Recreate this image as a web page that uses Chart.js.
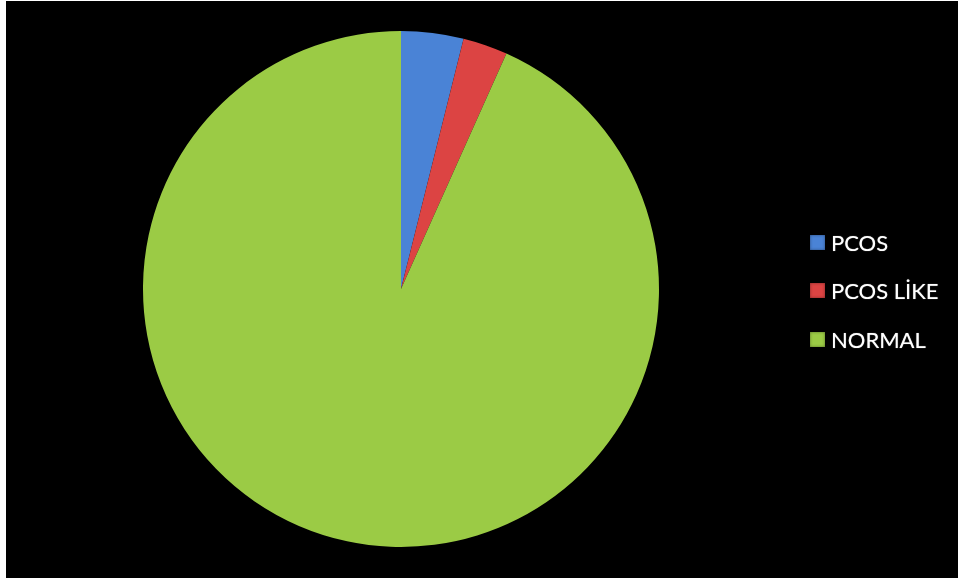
<!DOCTYPE html>
<html>
<head>
<meta charset="utf-8">
<script src="https://cdn.jsdelivr.net/npm/chart.js@4/dist/chart.umd.min.js"></script>
<style>
  html, body { margin: 0; padding: 0; background: #fff; }
  #wrap { position: absolute; left: 6px; top: 1px; width: 952px; height: 577px; background: #000; }
  #pie { position: absolute; left: 0; top: 0; }
  #legend { position: absolute; left: 804px; top: 222px; margin: 0; padding: 0; list-style: none;
            font-family: Lato, "Noto Sans", sans-serif; font-size: 22px; color: #fff;
            text-shadow: 0 0 1px rgba(255,255,255,0.6); }
  #legend li { display: flex; align-items: center; height: 38px; margin-bottom: 10.5px; }
  #legend .box { width: 15px; height: 15px; margin-right: 6px; box-shadow: inset 0 0 3px rgba(0,0,0,0.45); }
</style>
</head>
<body>
<div id="wrap">
  <canvas id="pie" width="952" height="577"></canvas>
  <ul id="legend"></ul>
</div>
<script>
// share of each group (%)
const groups = ['PCOS', 'PCOS LİKE', 'NORMAL'];
const shares = [3.9, 2.8, 93.3];
const colors = ['#4A83D6', '#DC4443', '#9BCB45'];
const rimColors = ['#2F5FA8', '#A82E2D', '#6E9830'];

// darker rim near the edge of every slice
function sliceFill(ctx) {
    const arc = ctx.element;
    const chart = ctx.chart;
    if (!arc || !arc.outerRadius) return colors[ctx.dataIndex];
    const { x, y } = arc.getProps(['x', 'y'], true);
    const r = arc.outerRadius;
    const g = chart.ctx.createRadialGradient(x, y, 0, x, y, r);
    g.addColorStop(0, colors[ctx.dataIndex]);
    g.addColorStop(0.93, colors[ctx.dataIndex]);
    g.addColorStop(1, rimColors[ctx.dataIndex]);
    return g;
}

new Chart(document.getElementById('pie'), {
    type: 'pie',
    data: {
        labels: groups,
        datasets: [{ data: shares, backgroundColor: sliceFill, borderWidth: 0 }]
    },
    options: {
        responsive: false,
        animation: false,
        layout: { padding: { left: 137, right: 299, top: 30, bottom: 31 } },
        plugins: { legend: { display: false }, tooltip: { enabled: false } }
    }
});

document.getElementById('legend').innerHTML = groups.map((g, i) =>
    `<li><span class="box" style="background:${colors[i]}"></span>${g}</li>`).join('');
</script>
</body>
</html>
